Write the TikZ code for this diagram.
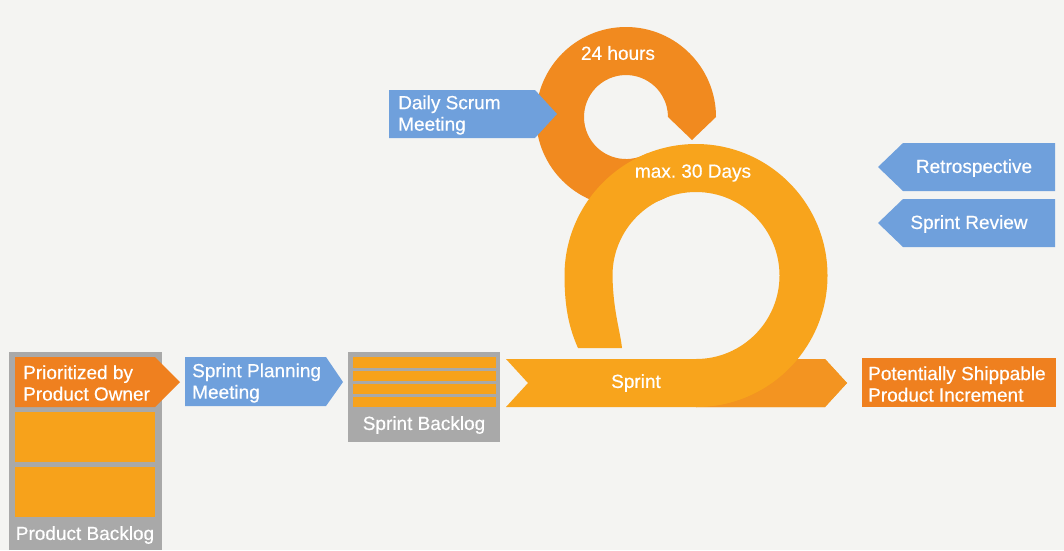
\documentclass[tikz,border=0pt]{standalone}
\usepackage{fontspec}
\setmainfont{Liberation Sans}
\newfontfamily\lblfont[FakeBold=0.5]{Liberation Sans}
\definecolor{bgc}{HTML}{F4F4F2}
\definecolor{scrumblue}{HTML}{6FA0DC}
\definecolor{greyc}{HTML}{A9A9A9}
\definecolor{darkor}{HTML}{EF801F}
\definecolor{lightor}{HTML}{F7A21B}
\definecolor{smallring}{HTML}{F18A1F}
\definecolor{bigring}{HTML}{F8A41C}
\definecolor{sprintdark}{HTML}{F39421}
\begin{document}
\begin{tikzpicture}[x=1pt,y=1pt,
  lbl/.style={text=white, font=\lblfont\fontsize{19}{21.5}\selectfont, inner sep=0pt, align=left},
  bluefill/.style={fill=scrumblue},
  greyfill/.style={fill=greyc},
  darkfill/.style={fill=darkor},
  lightfill/.style={fill=lightor}]
\useasboundingbox (0,0) rectangle (1064,-550);
\fill[bgc] (0,0) rectangle (1064,-550);

% Product backlog
\fill[greyfill] (9,-352) rectangle (162,-550);
\fill[darkfill] (15,-357) -- (155,-357) -- (180,-382) -- (155,-407) -- (15,-407) -- cycle;
\fill[lightfill] (15,-412) rectangle (155,-462);
\fill[lightfill] (15,-467) rectangle (155,-517);
\node[lbl, anchor=west] (prio) at (23,-383) {Prioritized by\\Product Owner};
\node[lbl] (pb) at (85,-535) {Product Backlog};

% Sprint planning meeting
\fill[bluefill] (185,-357) -- (326,-357) -- (343,-382) -- (326,-406) -- (185,-406) -- cycle;
\node[lbl, anchor=west] (spm) at (192,-383) {Sprint Planning\\Meeting};

% Sprint backlog
\fill[greyfill] (348,-352) rectangle (500,-442);
\fill[lightfill] (353,-357) rectangle (496,-368);
\fill[lightfill] (353,-371) rectangle (496,-381);
\fill[lightfill] (353,-384) rectangle (496,-394);
\fill[lightfill] (353,-397) rectangle (496,-407);
\node[lbl] (sb) at (424,-425) {Sprint Backlog};

% Sprint arrow
\fill[bigring] (506,-359) -- (825,-359) -- (847,-383) -- (825,-407) -- (506,-407) -- (528,-383) -- cycle;
\begin{scope}
  \clip (506,-359) -- (825,-359) -- (847,-383) -- (825,-407) -- (506,-407) -- (528,-383) -- cycle;
  \clip (696,-340) rectangle (860,-420);
  \fill[sprintdark, even odd rule] (696,-340) rectangle (860,-420) (696,-275.5) circle[radius=131.5];
\end{scope}

% small ring (24 hours)
\fill[smallring] (668,-117) -- (692,-140) -- (716,-117)
  arc[start angle=0, end angle=300, radius=90]
  -- (647,-153.4)
  arc[start angle=300, end angle=0, radius=42] -- cycle;

% big ring (max. 30 Days)
\fill[bigring] (564.5,-275.5) arc[start angle=180, end angle=-90, radius=131.5]
  -- (696,-359) arc[start angle=-90, end angle=180, radius=83.5]
  .. controls (613,-310) and (620,-330) .. (622,-348)
  -- (578,-348)
  .. controls (570,-330) and (564.5,-310) .. cycle;

% Daily scrum meeting
\fill[bluefill] (389,-90) -- (535,-90) -- (557,-114) -- (535,-138) -- (389,-138) -- cycle;
\node[lbl, anchor=west] (dsm) at (398,-115) {Daily Scrum\\Meeting};

% loop labels
\node[lbl] (h24) at (618,-53) {24 hours};
\node[lbl] (d30) at (693,-173) {max.\ 30 Days};
\node[lbl] (spr) at (636,-383) {Sprint};

% Potentially shippable product increment
\fill[darkfill] (862,-358) rectangle (1056,-407);
\node[lbl, anchor=west] (psi) at (868,-384) {Potentially Shippable\\Product Increment};

% Retrospective and sprint review
\fill[bluefill] (878,-167) -- (903,-143) -- (1055,-143) -- (1055,-191) -- (903,-191) -- cycle;
\node[lbl] (retro) at (974,-168) {Retrospective};
\fill[bluefill] (878,-223) -- (903,-199) -- (1055,-199) -- (1055,-247) -- (903,-247) -- cycle;
\node[lbl] (review) at (969,-224) {Sprint Review};
\end{tikzpicture}
\end{document}
